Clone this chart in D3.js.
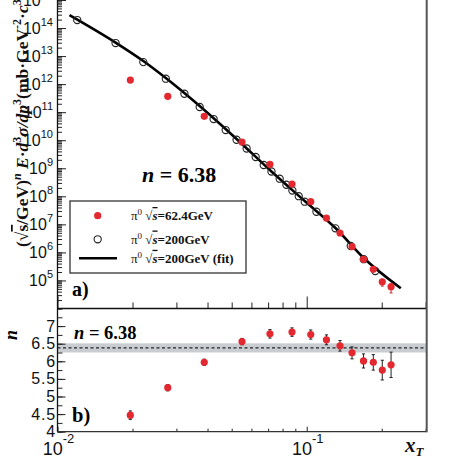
<!DOCTYPE html>
<html><head><meta charset="utf-8">
<script src="https://cdn.jsdelivr.net/npm/d3@7"></script>
<style>body{margin:0;background:#fff} svg{display:block}</style>
</head><body>
<script>
// ---------- data ----------
const xT62 = [0.0196,0.0277,0.0388,0.0550,0.0712,0.0873,0.1038,0.120,0.136,0.152,0.169,0.185,0.201,0.218];
const sigma62 = [1.40e12,3.67e11,7.11e10,8.63e9,1.38e9,2.75e8,6.42e7,1.68e7,4.92e6,1.60e6,5.68e5,2.50e5,9.0e4,5.98e4];
const sigma62RelErr = [0,0,0,0,0,0,0,0,0.05,0.06,0.1,0.15,0.3,0.4];
const xT200 = [0.0120,0.0171,0.0221,0.0272,0.0323,0.0372,0.0423,0.0473,0.0523,0.0574,0.0624,0.0672,0.0722,0.0779,0.0829,0.0876,0.0929,0.0982,0.1094,0.1304,0.1502,0.1694,0.1884];
const sigma200 = [1.93e14,2.92e13,6.1e12,1.56e12,4.55e11,1.53e11,5.7e10,2.31e10,1.04e10,5.06e9,2.52e9,1.31e9,7.66e8,4.24e8,2.59e8,1.61e8,1.01e8,6.42e7,2.82e7,7.23e6,1.69e6,5.72e5,2.17e5];
const xTFit = [0.01117,0.0171,0.0221,0.0272,0.0372,0.0523,0.0722,0.0982,0.1304,0.1694,0.2385];
const sigmaFit = [2.9e14,3.04e13,6.67e12,1.65e12,1.66e11,1.11e10,7.66e8,6.79e7,7.41e6,6.31e5,5.25e4];
const n62 = [4.47,5.25,5.97,6.56,6.78,6.83,6.76,6.61,6.44,6.24,6.01,5.97,5.75,5.90];
const n62Err = [0.12,0.09,0.09,0.09,0.12,0.12,0.13,0.14,0.15,0.17,0.20,0.22,0.28,0.36];
const nFit = 6.38, nFitErr = 0.13;
const xMajor = [0.01, 0.1];
const xMajorExp = ["-2", "-1"];
const yTopMajor = [1e5,1e6,1e7,1e8,1e9,1e10,1e11,1e12,1e13,1e14,1e15];
const yTopExp = ["5","6","7","8","9","10","11","12","13","14","15"];
const nMajor = [4,4.5,5,5.5,6,6.5,7];
const nMajorLabels = ["4","4.5","5","5.5","6","6.5","7"];
const legendLabels = ["=62.4GeV","=200GeV","=200GeV (fit)"];

// ---------- layout ----------
const W = 474, H = 463;
const L = 57.5, R = 426.7, T0 = 0, T1 = 308.5, B1 = 431.7;
const red = "#e3282f";
const serif = "'Liberation Serif','Times New Roman',serif";
const sans = "'Liberation Sans',Arial,sans-serif";

const svg = d3.select("body").append("svg").attr("width", W).attr("height", H);

const x = d3.scaleLog().domain([0.01, 0.303]).range([L, R]);
const yTop = d3.scaleLog().domain([1e4, 1e15]).range([T1, T0]);
const yBot = d3.scaleLinear().domain([4, 7.5]).range([B1, T1]);

// ---------- top panel ----------
const topG = svg.append("g");
topG.append("g").attr("transform", `translate(${L},0)`)
  .call(d3.axisLeft(yTop).tickValues(yTop.ticks(30).filter(v => v < 1.05e15)).tickSize(-4.5).tickFormat(""))
  .call(g => g.select(".domain").remove());
topG.append("g").attr("transform", `translate(${L},0)`)
  .call(d3.axisLeft(yTop).tickValues(yTopMajor).tickSize(-8.5).tickFormat(""))
  .call(g => g.select(".domain").remove());
topG.append("g").attr("transform", `translate(0,${T1})`)
  .call(d3.axisBottom(x).tickValues(x.ticks(20).filter(v => xMajor.indexOf(v) < 0)).tickSize(-6).tickFormat(""))
  .call(g => g.select(".domain").remove());
topG.append("g").attr("transform", `translate(0,${T1})`)
  .call(d3.axisBottom(x).tickValues(xMajor).tickSize(-12).tickFormat(""))
  .call(g => g.select(".domain").remove());
topG.selectAll(".tick line").attr("stroke", "#222").attr("stroke-width", 1);

const ylab = topG.append("g");
yTopMajor.forEach((v, i) => {
  const t = ylab.append("text").attr("x", 53).attr("y", yTop(v) + 5.5)
    .attr("text-anchor", "end").attr("font-family", sans).attr("font-size", 16).attr("fill", "#111");
  t.append("tspan").text("10");
  t.append("tspan").attr("font-size", 11).attr("dy", -8).text(yTopExp[i]);
});

topG.append("path").datum(xTFit.map((v, i) => [v, sigmaFit[i]]))
  .attr("d", d3.line().x(d => x(d[0])).y(d => yTop(d[1])).curve(d3.curveMonotoneX))
  .attr("fill", "none").attr("stroke", "#000").attr("stroke-width", 2.6);

topG.append("g").selectAll("circle").data(xT200).join("circle")
  .attr("cx", d => x(d)).attr("cy", (d, i) => yTop(sigma200[i])).attr("r", 3.6)
  .attr("fill", "none").attr("stroke", "#222").attr("stroke-width", 1.1);

const eb = topG.append("g").attr("stroke", "#c0282f").attr("stroke-width", 1);
xT62.forEach((v, i) => {
  const e = sigma62RelErr[i];
  if (e > 0) {
    const y1 = yTop(sigma62[i] * (1 + e)), y2 = yTop(sigma62[i] * (1 - e));
    eb.append("line").attr("x1", x(v)).attr("x2", x(v)).attr("y1", y1).attr("y2", y2);
    eb.append("line").attr("x1", x(v) - 1.5).attr("x2", x(v) + 1.5).attr("y1", y2).attr("y2", y2);
  }
});
topG.append("g").selectAll("circle").data(xT62).join("circle")
  .attr("cx", d => x(d)).attr("cy", (d, i) => yTop(sigma62[i])).attr("r", 3.6).attr("fill", red);

const nt = topG.append("text").attr("x", 142).attr("y", 181.5).attr("font-family", serif)
  .attr("font-weight", "bold").attr("font-size", 22).attr("fill", "#000");
nt.append("tspan").attr("font-style", "italic").text("n");
nt.append("tspan").text(" = " + nFit.toFixed(2));
topG.append("text").attr("x", 72).attr("y", 296).attr("font-family", serif)
  .attr("font-weight", "bold").attr("font-size", 20).text("a)");

const lg = topG.append("g");
lg.append("rect").attr("x", 70).attr("y", 201).attr("width", 176).attr("height", 72)
  .attr("fill", "#fff").attr("stroke", "#333").attr("stroke-width", 1.3);
lg.append("circle").attr("cx", 97.7).attr("cy", 215.7).attr("r", 3.6).attr("fill", red);
lg.append("circle").attr("cx", 97.7).attr("cy", 239.3).attr("r", 3.6).attr("fill", "none").attr("stroke", "#222").attr("stroke-width", 1.1);
lg.append("line").attr("x1", 79).attr("x2", 117).attr("y1", 258.3).attr("y2", 258.3).attr("stroke", "#000").attr("stroke-width", 2.6);
[220, 243.5, 262.8].forEach((yy, i) => {
  const t = lg.append("text").attr("x", 131).attr("y", yy).attr("font-family", serif)
    .attr("font-weight", "bold").attr("font-size", 13).attr("fill", "#111");
  t.append("tspan").attr("font-weight", "normal").text("π");
  t.append("tspan").attr("font-size", 9).attr("font-weight", "normal").attr("dy", -5).text("0");
  t.append("tspan").attr("dy", 5).text(" √");
  t.append("tspan").attr("font-style", "italic").attr("text-decoration", "overline").text("s");
  t.append("tspan").text(legendLabels[i]);
});

const yt = svg.append("text").attr("transform", "translate(28,247) rotate(-90)")
  .attr("font-family", serif).attr("font-weight", "bold").attr("font-size", 17.5).attr("fill", "#111");
yt.append("tspan").text("(√");
yt.append("tspan").attr("text-decoration", "overline").text("s");
yt.append("tspan").text("/GeV)");
yt.append("tspan").attr("font-style", "italic").attr("font-size", 12).attr("dy", -7).text("n");
yt.append("tspan").attr("font-style", "italic").attr("dy", 7).text(" E");
yt.append("tspan").text("·");
yt.append("tspan").attr("font-style", "italic").text("d");
yt.append("tspan").attr("font-size", 12).attr("dy", -7).text("3");
yt.append("tspan").attr("font-style", "italic").attr("dy", 7).text("σ/dp");
yt.append("tspan").attr("font-size", 12).attr("dy", -7).text("3");
yt.append("tspan").attr("dy", 7).text("(mb·GeV");
yt.append("tspan").attr("font-size", 12).attr("dy", -7).text("-2");
yt.append("tspan").attr("dy", 7).text("·");
yt.append("tspan").attr("font-style", "italic").text("c");
yt.append("tspan").attr("font-size", 12).attr("dy", -7).text("3");
yt.append("tspan").attr("dy", 7).text(")");

// ---------- bottom panel ----------
const bot = svg.append("g");
bot.append("rect").attr("x", L).attr("width", R - L)
  .attr("y", yBot(nFit + nFitErr)).attr("height", yBot(nFit - nFitErr) - yBot(nFit + nFitErr))
  .attr("fill", "#c9cdd2");
bot.append("line").attr("x1", L).attr("x2", R).attr("y1", yBot(nFit)).attr("y2", yBot(nFit))
  .attr("stroke", "#222").attr("stroke-width", 1.4).attr("stroke-dasharray", "3,2.5");

bot.append("g").attr("transform", `translate(${L},0)`)
  .call(d3.axisLeft(yBot).tickValues(d3.range(4, 7.51, 0.25)).tickSize(-5).tickFormat(""))
  .call(g => g.select(".domain").remove());
bot.append("g").attr("transform", `translate(${L},0)`)
  .call(d3.axisLeft(yBot).tickValues(nMajor).tickSize(-8).tickFormat(""))
  .call(g => g.select(".domain").remove());
bot.append("g").attr("transform", `translate(0,${B1})`)
  .call(d3.axisBottom(x).tickValues(x.ticks(20).filter(v => xMajor.indexOf(v) < 0)).tickSize(-3).tickFormat(""))
  .call(g => g.select(".domain").remove());
bot.append("g").attr("transform", `translate(0,${B1})`)
  .call(d3.axisBottom(x).tickValues(xMajor).tickSize(-5).tickFormat(""))
  .call(g => g.select(".domain").remove());
bot.selectAll(".tick line").attr("stroke", "#222").attr("stroke-width", 1);

nMajor.forEach((v, i) => {
  bot.append("text").attr("x", 56).attr("y", yBot(v) + 5.5).attr("text-anchor", "end")
    .attr("font-family", sans).attr("font-size", 16).attr("letter-spacing", 0.8).attr("fill", "#111").text(nMajorLabels[i]);
});

const eb2 = bot.append("g").attr("stroke", "#222").attr("stroke-width", 1);
xT62.forEach((v, i) => {
  const cx = x(v), y1 = yBot(n62[i] + n62Err[i]), y2 = yBot(n62[i] - n62Err[i]);
  eb2.append("line").attr("x1", cx).attr("x2", cx).attr("y1", y1).attr("y2", y2);
  eb2.append("line").attr("x1", cx - 1.6).attr("x2", cx + 1.6).attr("y1", y1).attr("y2", y1);
  eb2.append("line").attr("x1", cx - 1.6).attr("x2", cx + 1.6).attr("y1", y2).attr("y2", y2);
});
bot.append("g").selectAll("circle").data(xT62).join("circle")
  .attr("cx", d => x(d)).attr("cy", (d, i) => yBot(n62[i])).attr("r", 3.6).attr("fill", red);

const nb = bot.append("text").attr("x", 74).attr("y", 338.5).attr("font-family", serif)
  .attr("font-weight", "bold").attr("font-size", 18.5).attr("fill", "#000");
nb.append("tspan").attr("font-style", "italic").text("n");
nb.append("tspan").text(" = " + nFit.toFixed(2));
bot.append("text").attr("x", 72).attr("y", 421.5).attr("font-family", serif)
  .attr("font-weight", "bold").attr("font-size", 20.5).text("b)");

svg.append("text").attr("transform", "translate(17,335) rotate(-90)").attr("text-anchor", "middle")
  .attr("font-family", serif).attr("font-weight", "bold").attr("font-style", "italic").attr("font-size", 18).text("n");

xMajor.forEach((v, i) => {
  const t = svg.append("text").attr("x", x(v) + 1).attr("y", 455).attr("text-anchor", "middle")
    .attr("font-family", sans).attr("font-size", 18).attr("fill", "#111");
  t.append("tspan").text("10");
  t.append("tspan").attr("font-size", 13).attr("dy", -12).text(xMajorExp[i]);
});
const xt = svg.append("text").attr("x", 405).attr("y", 452).attr("font-family", serif)
  .attr("font-weight", "bold").attr("font-style", "italic").attr("font-size", 21).attr("fill", "#111");
xt.append("tspan").text("x");
xt.append("tspan").attr("font-size", 13).attr("dy", 4).text("T");

// ---------- frames ----------
svg.append("line").attr("x1", L).attr("x2", L).attr("y1", T0).attr("y2", B1).attr("stroke", "#111").attr("stroke-width", 1.3);
svg.append("line").attr("x1", L).attr("x2", R).attr("y1", T1).attr("y2", T1).attr("stroke", "#111").attr("stroke-width", 1.3);
svg.append("line").attr("x1", L).attr("x2", R).attr("y1", B1).attr("y2", B1).attr("stroke", "#333").attr("stroke-width", 1.3);
svg.append("line").attr("x1", R).attr("x2", R).attr("y1", T0).attr("y2", B1 + 0.6).attr("stroke", "#555").attr("stroke-width", 2);
</script>
</body></html>
